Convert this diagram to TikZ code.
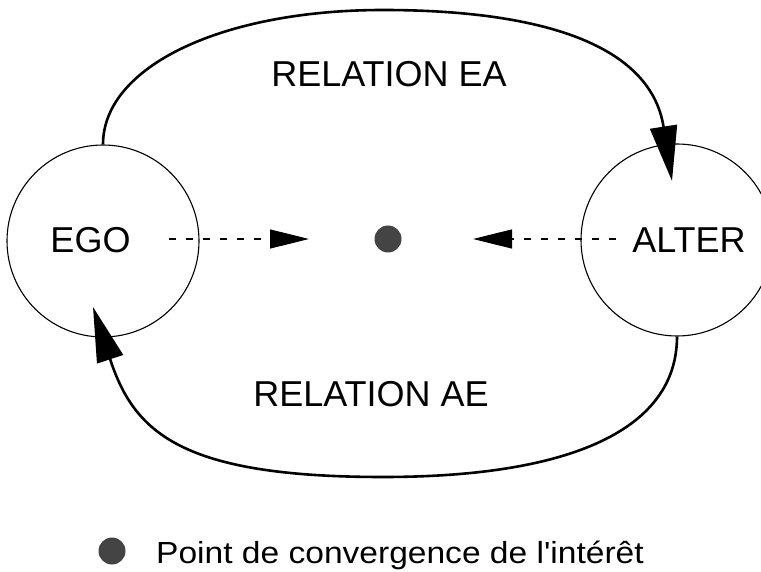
\documentclass[tikz,border=0pt]{standalone}
\usepackage{fontspec}
\setmainfont{Liberation Sans}
\newfontfamily\legendfont[FakeStretch=1.1]{Liberation Sans}
\usetikzlibrary{arrows.meta}
\definecolor{dotgray}{HTML}{444444}
\tikzset{
  person/.style={circle, draw, line width=1.1pt, minimum size=192pt, inner sep=0pt},
  bigtxt/.style={inner sep=0pt, font=\fontsize{36}{40}\selectfont},
  relarc/.style={line width=2.6pt, -{Triangle[length=55pt,width=27pt]}},
  interest/.style={line width=1.2pt, dash pattern=on 7pt off 10pt, -{Triangle[length=39pt,width=19pt]}},
  focus/.style={circle, fill=dotgray, minimum size=27pt, inner sep=0pt},
}
\begin{document}
\begin{tikzpicture}[x=1pt,y=-1pt]
\useasboundingbox (0,0) rectangle (761,572);
% persons
\node[person] (ego) at (103,241) {};
\node[person] (alter) at (677,240) {};
\node[bigtxt] (egotxt) at (90.5,240) {EGO};
\node[bigtxt] (altertxt) at (689,240) {ALTER};
% focus point
\node[focus] (dot) at (388,239) {};
% relation labels
\node[bigtxt] (relea) at (389,74.5) {RELATION EA};
\node[bigtxt] (relae) at (371,394) {RELATION AE};
% arrow tip anchors
\coordinate (tipEA) at (672,181);
\coordinate (tipAE) at (93,307);
\coordinate (topmid) at (383,10);
\coordinate (botmid) at (383,477);
% relation arcs
\draw[relarc] (ego.north) .. controls (103,67) and (221,10) .. (topmid)
  .. controls (530,10) and (650,40) .. (tipEA);
\draw[relarc] (alter.south) .. controls (677,428) and (574,477) .. (botmid)
  .. controls (180,477) and (134,432) .. (tipAE);
% interest arrows
\coordinate (egostart) at (169,239);
\coordinate (egotip) at (309,239);
\coordinate (alterstart) at (616,239);
\coordinate (altertip) at (473,239);
\draw[interest] (egostart) -- (egotip);
\draw[interest] (alterstart) -- (altertip);
% legend
\node[focus] (legdot) at (112,551) {};
\node[anchor=base west, inner sep=0pt, font=\legendfont\fontsize{30.5}{34}\selectfont] (legtxt) at (156,563.3) {Point de convergence de l'intérêt};
\end{tikzpicture}
\end{document}
